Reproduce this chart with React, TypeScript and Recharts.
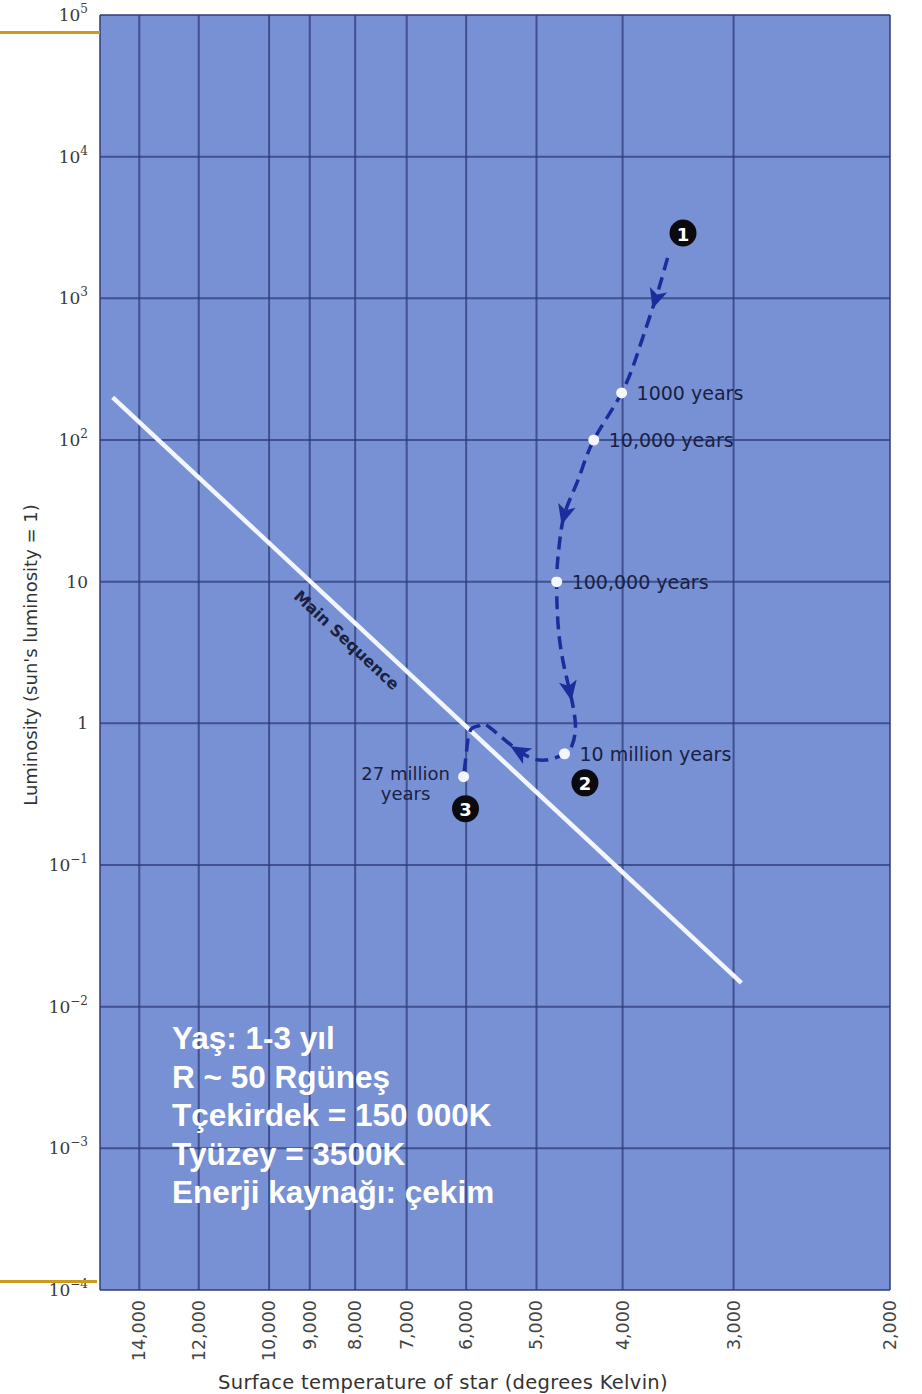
import React from 'react';
import { ComposedChart, Line, Scatter, XAxis, YAxis, CartesianGrid, Label } from 'recharts';

// axis ticks
const tempTicks = [14000, 12000, 10000, 9000, 8000, 7000, 6000, 5000, 4000, 3000, 2000];
const lumTicks = [1e-4, 1e-3, 1e-2, 1e-1, 1, 10, 1e2, 1e3, 1e4, 1e5];

// main sequence (two ends of the white line)
const mainSeqT = [15000, 2940];
const mainSeqL = [200, 0.0147];

// evolutionary track of the protostar
const trackT = [3560, 3670, 3820, 4010, 4310, 4490, 4650, 4720, 4745, 4710, 4590, 4520, 4560, 4650, 4890, 5220, 5650, 5790, 5900, 5960, 5990, 6040];
const trackL = [1930, 1000, 470, 215, 100, 52, 30, 16.7, 10, 3.9, 1.72, 0.97, 0.7, 0.61, 0.55, 0.63, 0.94, 0.97, 0.93, 0.83, 0.66, 0.42];
const arrowAt = [1, 6, 10, 15];

// age milestones along the track
const ageNames = ['1000 years', '10,000 years', '100,000 years', '10 million years', '27 million years'];
const ageT = [4010, 4310, 4745, 4650, 6040];
const ageL = [215, 100, 10, 0.61, 0.42];

// numbered stages
const stageNames = ['1', '2', '3'];
const stageT = [3420, 4410, 6010];
const stageL = [2890, 0.38, 0.25];

const seqLabelT = [8180];
const seqLabelL = [3.87];

const infoLines = ['Yaş: 1-3 yıl', 'R ~ 50 Rgüneş', 'Tçekirdek = 150 000K', 'Tyüzey = 3500K', 'Enerji kaynağı: çekim'];

const mainSeqData = mainSeqT.map((t, i) => ({ t, l: mainSeqL[i] }));
const trackData = trackT.map((t, i) => ({ t, l: trackL[i], arrow: arrowAt.includes(i) }));
const ageData = ageT.map((t, i) => ({ t, l: ageL[i], name: ageNames[i] }));
const stageData = stageT.map((t, i) => ({ t, l: stageL[i], name: stageNames[i] }));
const seqLabelData = seqLabelT.map((t, i) => ({ t, l: seqLabelL[i] }));

const TRACK = '#1a2d9a';
const LABEL = '#1a2142';
const SANS = '"DejaVu Sans", Verdana, sans-serif';

const LumTick = (props: any) => {
  const { x, y, payload } = props;
  const e = Math.round(Math.log10(payload.value));
  const base = e === 0 ? '1' : '10';
  const sup = e === 0 || e === 1 ? '' : e < 0 ? `\u2212${-e}` : String(e);
  return (
    <text x={x - 4} y={y + 6} textAnchor="end" fontFamily='"DejaVu Serif", serif' fontSize={17} fill="#3a3a3a">
      {base}
      {sup && (
        <tspan dy={-8} fontSize={12}>
          {sup}
        </tspan>
      )}
    </text>
  );
};

const TempTick = (props: any) => {
  const { x, payload } = props;
  const y = 1300;
  return (
    <text
      x={x}
      y={y}
      transform={`rotate(-90 ${x} ${y})`}
      textAnchor="end"
      dominantBaseline="central"
      fontFamily={SANS}
      fontSize={17.5}
      fill="#444"
    >
      {payload.value.toLocaleString('en-US')}
    </text>
  );
};

const TrackDot = (props: any) => {
  const { cx, cy, index, points, payload } = props;
  if (!payload || !payload.arrow) return <g key={`d${index}`} />;
  const prev = points && points[index - 1];
  const next = points && points[index + 1];
  let ang = 90;
  if (prev && next) ang = (Math.atan2(next.y - prev.y, next.x - prev.x) * 180) / Math.PI;
  return (
    <path
      key={`d${index}`}
      d="M 11 0 L -9 -9 L -4 0 L -9 9 Z"
      transform={`translate(${cx},${cy}) rotate(${ang})`}
      fill={TRACK}
    />
  );
};

const AgeShape = (props: any) => {
  const { cx, cy, payload } = props;
  const left = payload.name.startsWith('27');
  return (
    <g>
      <circle cx={cx} cy={cy} r={5.5} fill="#f4f6ff" />
      {left ? (
        <text textAnchor="middle" fontFamily={SANS} fontSize={18} fill={LABEL}>
          <tspan x={cx - 58} y={cy + 3}>27 million</tspan>
          <tspan x={cx - 58} y={cy + 23}>years</tspan>
        </text>
      ) : (
        <text x={cx + 15} y={cy} dominantBaseline="central" fontFamily={SANS} fontSize={19} fill={LABEL}>
          {payload.name}
        </text>
      )}
    </g>
  );
};

const StageShape = (props: any) => {
  const { cx, cy, payload } = props;
  return (
    <g>
      <circle cx={cx} cy={cy} r={13.5} fill="#0b0b0f" />
      <text x={cx} y={cy + 1} textAnchor="middle" dominantBaseline="central" fontFamily={SANS} fontWeight="bold" fontSize={18} fill="#fff">
        {payload.name}
      </text>
    </g>
  );
};

const SeqLabelShape = (props: any) => {
  const { cx, cy } = props;
  return (
    <text
      x={cx}
      y={cy}
      transform={`rotate(43 ${cx} ${cy})`}
      textAnchor="middle"
      dominantBaseline="central"
      fontFamily={SANS}
      fontWeight="bold"
      fontSize={16}
      fill="#1b2140"
    >
      Main Sequence
    </text>
  );
};

export default function App() {
  return (
    <div style={{ position: 'absolute', left: 0, top: 0, width: 922, height: 1394, background: '#fff' }}>
      <ComposedChart width={922} height={1394} margin={{ top: 15, right: 32, bottom: 34, left: 40 }}>
        <CartesianGrid fill="#7890d4" stroke="#2f3b78" strokeWidth={2} strokeOpacity={0.75} />
        <XAxis
          type="number"
          dataKey="t"
          scale="log"
          domain={[2000, 15500]}
          allowDataOverflow
          reversed
          ticks={tempTicks}
          interval={0}
          height={70}
          axisLine={false}
          tickLine={false}
          tick={<TempTick />}
        >
          <Label
            content={() => (
              <text x={443} y={1389} textAnchor="middle" fontFamily={SANS} fontSize={19.5} letterSpacing={0.3} fill="#333">
                Surface temperature of star (degrees Kelvin)
              </text>
            )}
          />
        </XAxis>
        <YAxis
          type="number"
          dataKey="l"
          scale="log"
          domain={[1e-4, 1e5]}
          allowDataOverflow
          ticks={lumTicks}
          interval={0}
          width={60}
          axisLine={false}
          tickLine={false}
          tick={<LumTick />}
        >
          <Label
            content={() => (
              <text x={37} y={655} transform="rotate(-90 37 655)" textAnchor="middle" fontFamily={SANS} fontSize={18} fill="#333">
                Luminosity (sun's luminosity = 1)
              </text>
            )}
          />
        </YAxis>
        <Line data={mainSeqData} dataKey="l" type="linear" stroke="#f3f5ff" strokeWidth={4.5} dot={false} isAnimationActive={false} />
        <Scatter data={seqLabelData} dataKey="l" shape={<SeqLabelShape />} isAnimationActive={false} />
        <Line
          data={trackData}
          dataKey="l"
          type="natural"
          stroke={TRACK}
          strokeWidth={3.5}
          strokeDasharray="13 7"
          dot={TrackDot}
          activeDot={false}
          isAnimationActive={false}
        />
        <Scatter data={ageData} dataKey="l" shape={<AgeShape />} isAnimationActive={false} />
        <Scatter data={stageData} dataKey="l" shape={<StageShape />} isAnimationActive={false} />
      </ComposedChart>

      <div style={{ position: 'absolute', left: 0, top: 31, width: 100, height: 3, background: '#cc9a1c' }} />
      <div style={{ position: 'absolute', left: 0, top: 1280, width: 97, height: 3, background: '#cc9a1c' }} />

      <div
        style={{
          position: 'absolute',
          left: 172,
          top: 1019,
          fontFamily: '"Liberation Sans", Arial, sans-serif',
          fontWeight: 'bold',
          fontSize: 31.5,
          lineHeight: '38.5px',
          color: '#fff',
          whiteSpace: 'nowrap',
        }}
      >
        {infoLines.map((s) => (
          <div key={s}>{s}</div>
        ))}
      </div>
    </div>
  );
}
